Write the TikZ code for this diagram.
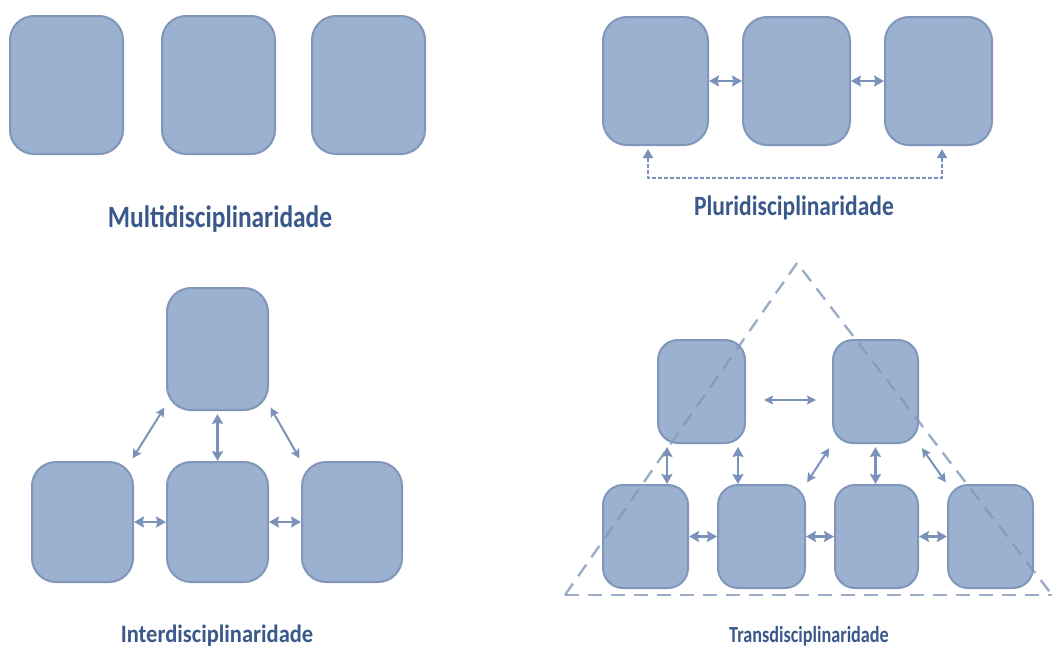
\documentclass[tikz,border=0pt]{standalone}
\usepackage{fontspec}
\setmainfont{Carlito}
\usetikzlibrary{arrows.meta,calc}
\definecolor{boxfill}{RGB}{156,177,207}
\definecolor{boxline}{RGB}{128,150,186}
\definecolor{arrcol}{RGB}{122,146,185}
\definecolor{txtcol}{RGB}{58,88,138}
\definecolor{tricol}{RGB}{130,152,188}
\tikzset{
  box/.style={draw=boxline, fill=boxfill, line width=2pt, rounded corners=24pt, inner sep=0pt},
  arr/.style={draw=arrcol, line width=2.6pt, {Stealth[length=10pt,width=11pt,inset=1.5pt]}-{Stealth[length=10pt,width=11pt,inset=1.5pt]}},
  thinarr/.style={draw=arrcol, line width=2pt, {Stealth[length=9pt,width=9pt,inset=1.5pt]}-{Stealth[length=9pt,width=9pt,inset=1.5pt]}},
  pd/.style={draw=arrcol, line width=1.8pt, dash pattern=on 4pt off 2pt, {Triangle[length=9pt,width=10pt]}-{Triangle[length=9pt,width=10pt]}},
  tri/.style={draw=tricol, line width=2.4pt, dash pattern=on 14pt off 9pt, opacity=0.8},
  lbl/.style={text=txtcol, inner sep=0pt, anchor=base}
}
\begin{document}
\begin{tikzpicture}[x=1pt,y=-1pt]
\useasboundingbox (0,0) rectangle (1052,651);
% Multidisciplinaridade
\node[box, minimum width=113pt, minimum height=138pt] (m1) at (66.5,85) {};
\node[box, minimum width=113pt, minimum height=138pt] (m2) at (218.5,85) {};
\node[box, minimum width=113pt, minimum height=138pt] (m3) at (368.5,85) {};
\node[lbl] (lm) at (220,227) {\scalebox{0.82}[1]{\fontsize{31}{34}\selectfont\bfseries Multidisciplinaridade}};
% Pluridisciplinaridade
\node[box, minimum width=105pt, minimum height=128pt] (p1) at (655.5,81) {};
\node[box, minimum width=107pt, minimum height=128pt] (p2) at (796.5,81) {};
\node[box, minimum width=107pt, minimum height=128pt] (p3) at (938.5,81) {};
\draw[arr] (p1.east) -- (p2.west);
\draw[arr] (p2.east) -- (p3.west);
\coordinate (dA) at (648,178);
\coordinate (dB) at (942,178);
\draw[pd, shorten <=3pt, shorten >=3pt] (p1.south -| dA) -- (dA) -- (dB) -- (p3.south -| dB);
\node[lbl] (lp) at (794,215) {\scalebox{0.84}[1]{\fontsize{28}{32}\selectfont\bfseries Pluridisciplinaridade}};
% Interdisciplinaridade
\node[box, minimum width=101pt, minimum height=122pt] (it) at (217.5,349) {};
\node[box, minimum width=101pt, minimum height=120pt] (i1) at (82.5,522) {};
\node[box, minimum width=101pt, minimum height=120pt] (i2) at (217.5,522) {};
\node[box, minimum width=100pt, minimum height=120pt] (i3) at (352,522) {};
\draw[arr] (i1.east) -- (i2.west);
\draw[arr] (i2.east) -- (i3.west);
\draw[arr, shorten <=3pt] (it.south) -- (i2.north);
\draw[thinarr, shorten <=3pt, shorten >=3pt] ([xshift=-3pt]i1.north east) -- ([yshift=6pt]it.south west);
\draw[thinarr, shorten <=3pt, shorten >=3pt] ([yshift=6pt]it.south east) -- (i3.north west);
\node[lbl] (li) at (217,642) {\scalebox{0.9}[1]{\fontsize{25}{29}\selectfont\bfseries Interdisciplinaridade}};
% Transdisciplinaridade
\node[box, rounded corners=20pt, minimum width=87pt, minimum height=103pt] (u1) at (701.5,391.5) {};
\node[box, rounded corners=20pt, minimum width=85pt, minimum height=103pt] (u2) at (875.5,391.5) {};
\node[box, rounded corners=20pt, minimum width=85pt, minimum height=103pt] (t1) at (645.5,536.5) {};
\node[box, rounded corners=20pt, minimum width=87pt, minimum height=103pt] (t2) at (761.5,536.5) {};
\node[box, rounded corners=20pt, minimum width=83pt, minimum height=103pt] (t3) at (876.5,536.5) {};
\node[box, rounded corners=20pt, minimum width=85pt, minimum height=103pt] (t4) at (990.5,536.5) {};
\draw[arr] (t1.east) -- (t2.west);
\draw[arr] (t2.east) -- (t3.west);
\draw[arr] (t3.east) -- (t4.west);
\draw[thinarr, shorten <=18pt, shorten >=16pt] ([yshift=-8.5pt]u1.east) -- ([yshift=-8.5pt]u2.west);
\draw[arr, shorten <=3pt] ([xshift=-34.5pt]u1.south) -- ([xshift=-34.5pt]u1.south |- t1.north);
\draw[arr, shorten <=3pt] ([xshift=36.5pt]u1.south) -- ([xshift=36.5pt]u1.south |- t2.north);
\draw[arr, shorten <=3pt] (u2.south) -- (u2.south |- t3.north);
\draw[thinarr, shorten <=5pt, shorten >=2pt] (u2.south west) -- (t2.north east);
\draw[thinarr, shorten <=5pt, shorten >=2pt] (u2.south east) -- (t4.north west);
\coordinate (ta) at (797,263);
\coordinate (tl) at (565,595);
\coordinate (tr) at (1052,595);
\coordinate (trs) at (1056,600);
\draw[tri] (tl) -- (ta) -- (trs);
\draw[tri] (tl) -- (tr);
\node[lbl] (lt) at (809,642) {\scalebox{0.79}[1]{\fontsize{23}{27}\selectfont\bfseries Transdisciplinaridade}};
\end{tikzpicture}
\end{document}
